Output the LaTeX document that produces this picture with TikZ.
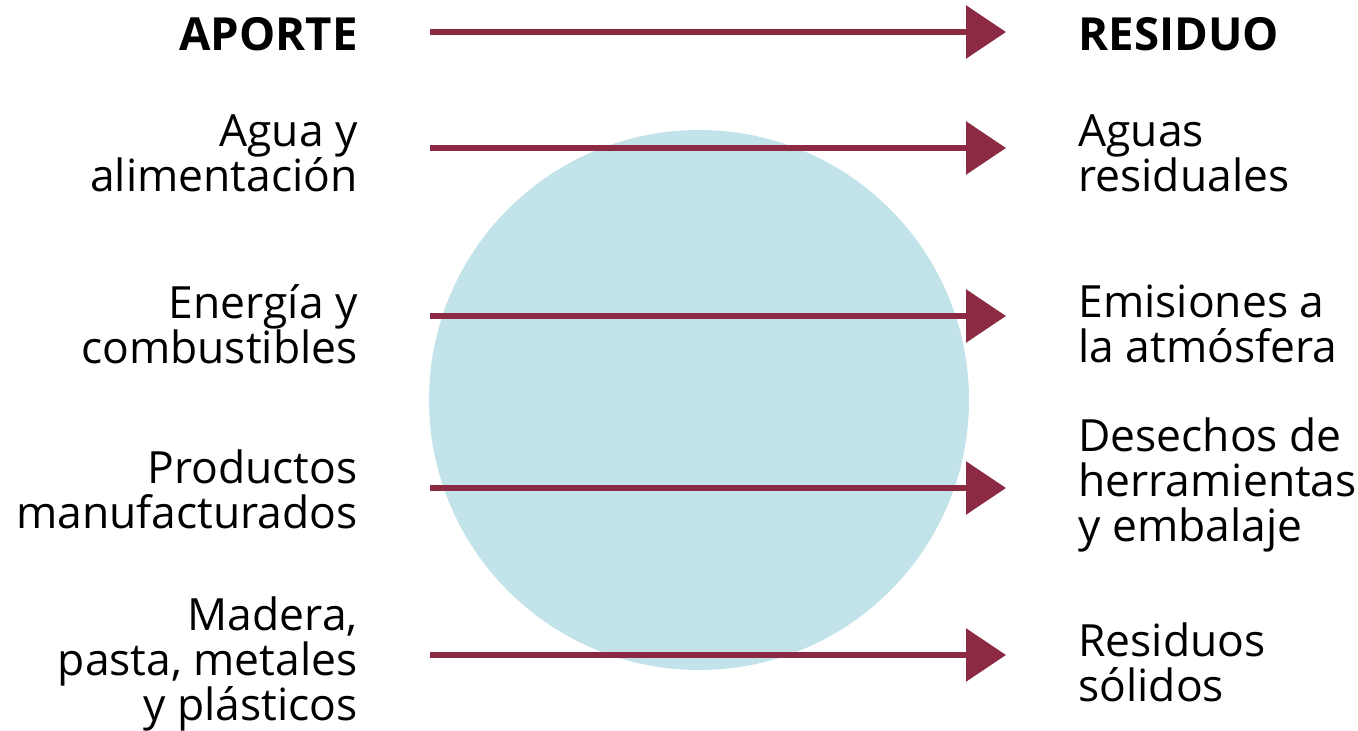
\documentclass[tikz,border=0pt]{standalone}
\usepackage{fontspec}
\setmainfont{Open Sans}
\usetikzlibrary{arrows.meta}
\definecolor{flowred}{HTML}{8C2943}
\definecolor{sphere}{HTML}{C3E3EA}
\begin{document}
\begin{tikzpicture}[x=0.5pt, y=-0.5pt,
    flow/.style={line width=3pt, flowred, -{Triangle[length=20pt, width=26pt]}},
    inlabel/.style={anchor=east, align=right, inner sep=0pt, font=\fontsize{22.2}{22.5}\selectfont},
    outlabel/.style={anchor=west, align=left, inner sep=0pt, font=\fontsize{22.2}{22.5}\selectfont},
    head/.style={inner sep=0pt, font=\fontsize{22.8}{22.5}\selectfont\bfseries}]
    \useasboundingbox (0,0) rectangle (1358,731);

    % Central sphere
    \fill[sphere] (699,400) circle (270);

    % Start and end points of the flows
    \coordinate (s0) at (430,32);   \coordinate (e0) at (1006,32);
    \coordinate (s1) at (430,148);  \coordinate (e1) at (1006,148);
    \coordinate (s2) at (430,316);  \coordinate (e2) at (1006,316);
    \coordinate (s3) at (430,488);  \coordinate (e3) at (1006,488);
    \coordinate (s4) at (430,655);  \coordinate (e4) at (1006,655);

    % Draw flows
    \foreach \i in {0,...,4}
        \draw[flow] (s\i) -- (e\i);

    % Headings
    \node[head, anchor=east] (aporte) at (358,34) {APORTE};
    \node[head, anchor=west] (residuo) at (1078,34) {RESIDUO};

    % Inputs
    \node[inlabel] (agua) at (358,153) {Agua y\\alimentación};
    \node[inlabel] (energia) at (358,324) {Energía y\\combustibles};
    \node[inlabel] (productos) at (358,489) {Productos\\manufacturados};
    \node[inlabel] (madera) at (358,664) {Madera,\\pasta, metales\\y plásticos};

    % Outputs
    \node[outlabel] (aguas) at (1078,153) {Aguas\\residuales};
    \node[outlabel] (emisiones) at (1078,324) {Emisiones a\\la atmósfera};
    \node[outlabel] (desechos) at (1078,485) {Desechos de\\herramientas\\y embalaje};
    \node[outlabel] (solidos) at (1078,662) {Residuos\\sólidos};
\end{tikzpicture}
\end{document}
